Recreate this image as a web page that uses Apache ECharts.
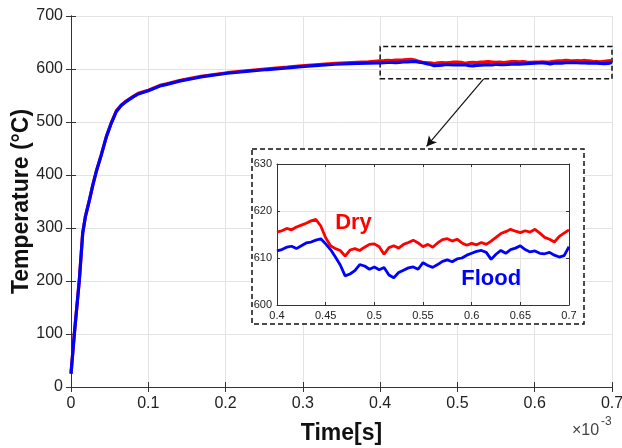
<!DOCTYPE html>
<html><head><meta charset="utf-8">
<script src="https://cdn.jsdelivr.net/npm/echarts@6/dist/echarts.min.js"></script>
<style>html,body{margin:0;padding:0;background:#fff}#c{width:622px;height:448px}</style>
</head><body><div id="c"></div>
<script>
// Time axis values are in units of 1e-3 s
var riseTime  = [0, 0.0043, 0.0108, 0.0151, 0.0187, 0.0239, 0.0282, 0.0326, 0.039, 0.0457, 0.0522, 0.0587, 0.065, 0.0718, 0.08, 0.087, 0.1, 0.115, 0.124, 0.14, 0.168, 0.202, 0.23, 0.254, 0.28, 0.298, 0.32, 0.342, 0.37, 0.385];
var riseDry   = [25, 100, 202, 290, 322, 353, 381, 406, 437, 472, 499, 521, 532, 540, 548, 554, 560, 569, 572, 578, 586, 593, 597, 600.5, 603.5, 606, 608.5, 610.5, 612.5, 613.5];
var riseFlood = [25, 100, 202, 290, 322, 353, 381, 406, 437, 472, 498, 520, 531, 539, 547, 553, 559, 568, 571, 577, 585, 592, 596, 599, 602, 604.5, 607, 609, 610.5, 611];

var zoomTime = [0.400,0.405,0.410,0.415,0.420,0.425,0.430,0.435,0.440,0.445,0.450,0.455,0.460,0.465,0.470,0.475,0.480,0.485,0.490,0.495,0.500,0.505,0.510,0.515,0.520,0.525,0.530,0.535,0.540,0.545,0.550,0.555,0.560,0.565,0.570,0.575,0.580,0.585,0.590,0.595,0.600,0.605,0.610,0.615,0.620,0.625,0.630,0.635,0.640,0.645,0.650,0.655,0.660,0.665,0.670,0.675,0.680,0.685,0.690,0.695,0.700];
var zoomDry = [615.5,615.8,616.3,616.0,616.6,617.0,617.4,617.9,618.2,616.8,614.3,612.6,612.0,611.6,610.4,611.7,612.0,611.6,612.3,612.9,613.0,612.4,610.8,612.2,612.6,612.1,612.9,613.3,613.8,613.2,612.4,612.9,612.3,613.2,613.9,614.1,613.6,614.0,613.2,612.7,613.1,612.8,613.3,612.9,613.6,614.4,615.2,615.6,616.1,615.7,615.4,615.8,615.5,616.1,615.3,614.4,614.0,613.4,614.6,615.3,616.0];
var zoomFlood = [611.5,611.8,612.3,612.5,612.0,612.6,613.2,613.4,613.8,614.1,613.0,611.8,610.2,608.5,606.2,606.6,607.3,608.6,608.3,607.6,608.1,607.5,608.0,606.4,605.8,606.9,607.4,607.9,608.1,607.6,609.0,608.4,608.0,608.6,609.3,609.6,609.2,609.8,610.0,610.6,611.0,611.4,611.6,611.2,609.7,610.8,611.6,611.0,611.8,612.1,612.6,611.8,611.3,611.5,611.0,610.9,611.2,610.6,610.2,610.5,612.4];

var mainXTicks = [0, 0.7, 0.1];   // min, max, interval
var mainYTicks = [0, 700, 100];
var zoomXTicks = [0.4, 0.7, 0.05];
var zoomYTicks = [600, 630, 10];
var labelDry = 'Dry', labelFlood = 'Flood';
var labelDryPos = [0.4786, 617.4], labelFloodPos = [0.620, 605.5];
var xName = 'Time[s]', yName = 'Temperature (\u00B0C)';

function pairs(xs, ys){ return xs.map(function(x,i){ return [x, ys[i]]; }); }
var mainDry = pairs(riseTime, riseDry).concat(pairs(zoomTime, zoomDry));
var mainFlood = pairs(riseTime, riseFlood).concat(pairs(zoomTime, zoomFlood));

var FONT = 'Liberation Sans, Arial, sans-serif';
var AX = '#333';
var chart = echarts.init(document.getElementById('c'));

function axBase(extra){
  var o = {
    axisLine:{show:true, lineStyle:{color:AX, width:1}},
    axisTick:{show:true, inside:true, length:5, lineStyle:{color:AX}},
    axisLabel:{color:'#222', fontFamily:FONT, fontSize:16},
    splitLine:{show:true, lineStyle:{color:'#e3e3e3', width:1}}
  };
  for (var k in extra) o[k] = extra[k];
  return o;
}
function tagSeries(name, pos, color){
  return {type:'scatter', xAxisIndex:2, yAxisIndex:2, z:25, silent:true, data:[pos],
    symbolSize:1, itemStyle:{color:'rgba(0,0,0,0)', opacity:1},
    label:{show:true, position:'inside', formatter:name, color:color, opacity:1,
      fontFamily:FONT, fontSize:22, fontWeight:'bold'}};
}

chart.setOption({
  animation:false,
  backgroundColor:'#fff',
  grid:[
    {left:71, top:16, right:10, bottom:61, outerBoundsMode:'none', containLabel:false},
    {left:277, top:164, right:53, bottom:143, z:15, outerBoundsMode:'none', containLabel:false}
  ],
  xAxis:[
    axBase({type:'value', gridIndex:0, min:mainXTicks[0], max:mainXTicks[1], interval:mainXTicks[2],
      axisLabel:{color:'#222', fontFamily:FONT, fontSize:16, margin:9},
      name:xName, nameLocation:'middle', nameGap:35,
      nameTextStyle:{fontFamily:FONT, fontSize:23, fontWeight:'bold', color:'#111'}}),
    axBase({type:'value', gridIndex:0, position:'top', min:mainXTicks[0], max:mainXTicks[1], interval:mainXTicks[2],
      axisLabel:{show:false}, splitLine:{show:false}}),
    axBase({type:'value', gridIndex:1, min:zoomXTicks[0], max:zoomXTicks[1], interval:zoomXTicks[2], z:20,
      axisTick:{show:true, inside:true, length:3, lineStyle:{color:AX}},
      axisLabel:{color:'#222', fontFamily:FONT, fontSize:11, margin:5}}),
    axBase({type:'value', gridIndex:1, position:'top', min:zoomXTicks[0], max:zoomXTicks[1], interval:zoomXTicks[2], z:20,
      axisTick:{show:true, inside:true, length:3, lineStyle:{color:AX}},
      axisLabel:{show:false}, splitLine:{show:false}})
  ],
  yAxis:[
    axBase({type:'value', gridIndex:0, min:mainYTicks[0], max:mainYTicks[1], interval:mainYTicks[2],
      axisLabel:{color:'#222', fontFamily:FONT, fontSize:16, margin:8},
      name:yName, nameLocation:'middle', nameGap:38, nameMoveOverlap:false,
      nameTextStyle:{fontFamily:FONT, fontSize:23, fontWeight:'bold', color:'#111'}}),
    axBase({type:'value', gridIndex:0, position:'right', min:mainYTicks[0], max:mainYTicks[1], interval:mainYTicks[2],
      axisLabel:{show:false}, splitLine:{show:false}}),
    axBase({type:'value', gridIndex:1, min:zoomYTicks[0], max:zoomYTicks[1], interval:zoomYTicks[2], z:20,
      axisTick:{show:true, inside:true, length:3, lineStyle:{color:AX}},
      axisLabel:{color:'#222', fontFamily:FONT, fontSize:11, margin:5}}),
    axBase({type:'value', gridIndex:1, position:'right', min:zoomYTicks[0], max:zoomYTicks[1], interval:zoomYTicks[2], z:20,
      axisTick:{show:true, inside:true, length:3, lineStyle:{color:AX}},
      axisLabel:{show:false}, splitLine:{show:false}})
  ],
  graphic:[
    {type:'rect', z:10, shape:{x:252, y:149, width:332, height:175},
     style:{fill:'#fff', stroke:'#111', lineWidth:1.5, lineDash:[5,3]}},
    {type:'text', left:572, top:423, z:30, style:{text:'\u00D710', font:'16px '+FONT, fill:'#444'}},
    {type:'text', left:601, top:416, z:30, style:{text:'-3', font:'12px '+FONT, fill:'#444'}}
  ],
  series:[
    {type:'line', name:labelDry, xAxisIndex:0, yAxisIndex:0, data:mainDry, showSymbol:false,
     lineStyle:{color:'#ff0000', width:3.2}, z:2,
     markArea:{silent:true, itemStyle:{color:'rgba(0,0,0,0)', borderColor:'#111', borderWidth:1.5, borderType:[5,3]},
       data:[[{coord:[0.4, 581.5]}, {coord:[0.7, 642.5]}]]}},
    {type:'line', name:labelFlood, xAxisIndex:0, yAxisIndex:0, data:mainFlood, showSymbol:false,
     lineStyle:{color:'#0000ff', width:3.2}, z:3,
     markLine:{silent:true, symbol:['none','arrow'], symbolSize:[8,10], label:{show:false},
       lineStyle:{color:'#111', width:1.2, type:'solid'},
       data:[[{coord:[0.534, 581.5]}, {coord:[0.46, 454]}]]}},
    {type:'line', name:labelDry, xAxisIndex:2, yAxisIndex:2, data:pairs(zoomTime, zoomDry), showSymbol:false,
     lineStyle:{color:'#ff0000', width:2.8}, z:21},
    {type:'line', name:labelFlood, xAxisIndex:2, yAxisIndex:2, data:pairs(zoomTime, zoomFlood), showSymbol:false,
     lineStyle:{color:'#0000ff', width:2.8}, z:22},
    tagSeries(labelDry, labelDryPos, '#ff0000'),
    tagSeries(labelFlood, labelFloodPos, '#0000ff')
  ]
});
</script></body></html>
